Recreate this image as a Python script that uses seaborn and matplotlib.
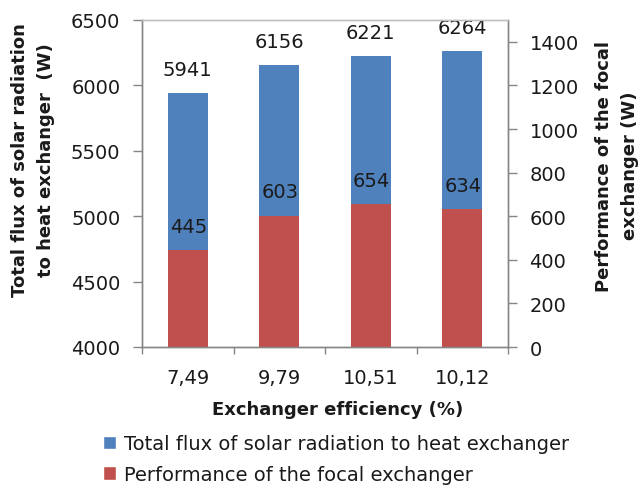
import matplotlib
matplotlib.use("Agg")
import matplotlib.pyplot as plt
import seaborn as sns
import pandas as pd
from matplotlib.patches import Patch

# Data
efficiency = ["7,49", "9,79", "10,51", "10,12"]
total_flux = [5941, 6156, 6221, 6264]
performance = [445, 603, 654, 634]

flux_name = "Total flux of solar radiation to heat exchanger"
perf_name = "Performance of the focal exchanger"

blue = "#4F81BD"
red = "#C0504D"
axis_gray = "#868686"
text_color = "#1a1a1a"
fs = 14
fs_bold = 13

sns.set_theme(style="white")
plt.rcParams["font.family"] = ["DejaVu Sans"]

W, H = 641, 489
df = pd.DataFrame({"eff": efficiency, "flux": total_flux, "perf": performance})

fig = plt.figure(figsize=(W / 100, H / 100), dpi=100)
ax = fig.add_axes([142 / W, 1 - 348 / H, (508 - 142) / W, (348 - 21) / H])
ax2 = ax.twinx()

sns.barplot(data=df, x="eff", y="flux", ax=ax, color=blue, width=0.44,
            saturation=1, linewidth=0)
sns.barplot(data=df, x="eff", y="perf", ax=ax2, color=red, width=0.44,
            saturation=1, linewidth=0)

ax.set_ylim(4000, 6500)
ax.set_yticks(range(4000, 6501, 500))
ax2.set_ylim(0, 1500)
ax2.set_yticks(range(0, 1401, 200))
for a in (ax, ax2):
    a.set_xlim(-0.5, 3.5)
    a.set_xlabel("")
    a.set_ylabel("")

# value labels above each bar
for i, v in enumerate(total_flux):
    ax.annotate(str(v), (i, v), xytext=(0, 13), textcoords="offset points",
                ha="center", va="baseline", fontsize=fs, color=text_color,
                annotation_clip=False)
for i, v in enumerate(performance):
    ax2.annotate(str(v), (i + 0.01, v), xytext=(0, 13), textcoords="offset points",
                 ha="center", va="baseline", fontsize=fs, color=text_color,
                 annotation_clip=False)

# spines and ticks
for a in (ax, ax2):
    for s in ("left", "right", "bottom"):
        a.spines[s].set_color(axis_gray)
        a.spines[s].set_linewidth(1.0)
    a.spines["top"].set_color("#BFBFBF")
    a.spines["top"].set_linewidth(1.0)

ax.tick_params(axis="y", which="major", direction="out", length=6.5, width=1,
               color=axis_gray, labelsize=fs, labelcolor=text_color, pad=9, left=True)
ax2.tick_params(axis="y", which="major", direction="out", length=6.5, width=1,
                color=axis_gray, labelsize=fs, labelcolor=text_color, pad=9, right=True)
ax.set_xticks([0, 1, 2, 3])
ax.set_xticklabels(efficiency)
ax.set_xticks([-0.5, 0.5, 1.5, 2.5, 3.5], minor=True)
ax.tick_params(axis="x", which="major", length=0, labelsize=fs,
               labelcolor=text_color, pad=15)
ax.tick_params(axis="x", which="minor", direction="out", length=5, width=1,
               color=axis_gray, bottom=True)

# axis titles
fig.text(338 / W, 1 - 415.5 / H, "Exchanger efficiency (%)", fontsize=fs_bold,
         fontweight="bold", color=text_color, ha="center", va="baseline")
fig.text(33 / W, 1 - 160 / H, "Total flux of solar radiation\nto heat exchanger  (W)",
         fontsize=fs_bold, fontweight="bold", color=text_color, rotation=90,
         ha="center", va="center", multialignment="center", linespacing=1.6)
fig.text(617 / W, 1 - 166 / H, "Performance of the focal\nexchanger (W)",
         fontsize=fs_bold, fontweight="bold", color=text_color, rotation=90,
         ha="center", va="center", multialignment="center", linespacing=1.6)

handles = [Patch(facecolor=blue, label=flux_name), Patch(facecolor=red, label=perf_name)]
fig.legend(handles=handles, loc="upper left", bbox_to_anchor=(103 / W, 1 - 435 / H),
           frameon=False, fontsize=fs, handlelength=0.68, handleheight=0.68,
           handletextpad=0.38, labelspacing=0.6, borderaxespad=0, borderpad=0,
           labelcolor=text_color)

fig.savefig("out.png", dpi=100)
